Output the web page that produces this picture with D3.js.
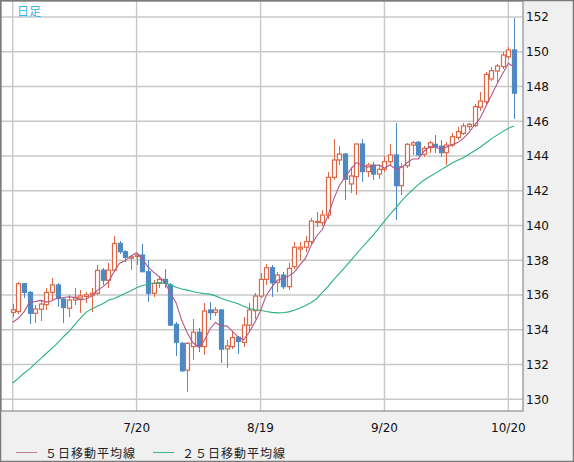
<!DOCTYPE html>
<html><head><meta charset="utf-8">
<script src="https://cdn.jsdelivr.net/npm/d3@7"></script>
<style>
html,body{margin:0;padding:0;background:#f0f0f0;}
svg{display:block;}
</style></head>
<body><svg id="c" width="574" height="462"></svg>
<script>
const dates = ["6/20","6/21","6/22","6/23","6/24","6/27","6/28","6/29","6/30","7/1",
"7/4","7/5","7/6","7/7","7/8","7/11","7/12","7/13","7/14","7/15",
"7/18","7/19","7/20","7/21","7/22","7/25","7/26","7/27","7/28","7/29",
"8/1","8/2","8/3","8/4","8/5","8/8","8/9","8/10","8/11","8/12",
"8/15","8/16","8/17","8/18","8/19","8/22","8/23","8/24","8/25","8/26",
"8/29","8/30","8/31","9/1","9/2","9/5","9/6","9/7","9/8","9/9",
"9/12","9/13","9/14","9/15","9/16","9/19","9/20","9/21","9/22","9/23",
"9/26","9/27","9/28","9/29","9/30","10/3","10/4","10/5","10/6","10/7",
"10/10","10/11","10/12","10/13","10/14","10/17","10/18","10/19","10/20","10/21"];

const open = [135.0,135.05,136.65,136.15,134.95,135.18,135.45,136.15,136.58,135.77,
135.24,135.71,135.82,135.92,136.0,136.1,137.43,136.85,137.43,138.97,
138.49,138.12,138.22,138.3,137.34,136.1,136.67,136.9,136.58,134.31,
133.22,131.68,133.03,133.86,133.03,135.14,135.0,135.14,132.9,133.03,
133.57,133.28,134.27,135.1,135.94,136.9,137.57,136.73,137.15,136.48,
137.63,138.65,138.75,139.07,140.2,140.16,140.6,142.77,143.77,144.11,
142.39,142.81,144.69,143.1,143.48,142.96,143.23,143.67,144.06,142.29,
143.44,144.63,144.79,144.1,144.48,144.67,144.57,144.19,144.63,145.07,
145.3,145.69,145.75,146.8,147.12,148.43,148.89,149.14,149.71,150.1];

const high = [135.5,136.75,136.72,136.25,135.42,135.65,136.39,137.0,136.7,135.85,
136.0,136.39,136.3,136.15,136.39,137.75,137.55,137.85,139.41,139.1,
138.6,138.3,138.4,138.93,138.0,136.86,137.1,137.48,136.7,134.45,
133.3,133.3,134.6,134.12,135.55,135.6,135.3,135.2,133.4,133.93,
133.64,134.72,135.56,136.1,137.25,137.8,137.73,137.34,137.34,137.82,
139.07,139.07,139.4,140.41,140.79,140.89,143.1,145.0,144.6,144.15,
143.38,144.69,144.96,143.6,143.65,143.48,144.0,144.69,145.88,143.58,
144.76,144.86,144.86,144.6,144.86,145.2,144.92,144.8,145.3,145.69,
145.88,145.91,146.99,147.7,148.85,149.1,149.29,150.0,150.25,151.92];

const low = [134.75,134.9,135.8,134.35,134.4,134.5,135.14,135.7,135.33,134.4,
134.72,135.4,134.95,135.55,135.0,135.98,136.55,136.39,137.3,138.35,
137.9,137.43,137.75,137.3,135.62,135.9,136.4,136.4,134.2,132.5,
131.59,130.44,132.26,132.74,132.55,134.56,134.8,132.07,131.78,132.9,
132.59,133.0,133.9,134.6,135.8,136.6,135.9,136.19,136.33,136.29,
137.5,138.01,138.5,138.9,139.93,140.0,140.4,142.6,143.5,141.47,
141.85,141.75,142.52,142.8,142.6,142.66,143.1,143.5,140.32,141.75,
143.3,144.06,144.0,143.95,144.2,144.19,143.92,143.48,144.53,144.9,
145.21,145.5,145.69,146.6,147.0,148.3,148.18,149.0,149.58,146.15];

const close = [135.15,136.65,136.15,134.95,135.2,135.48,136.15,136.58,135.8,135.28,
135.71,135.87,135.95,136.02,136.1,137.42,136.85,137.43,138.97,138.49,
138.17,138.2,138.3,137.34,136.1,136.67,136.9,136.67,134.27,133.28,
131.64,133.22,133.86,133.03,135.08,134.98,135.14,132.88,133.07,133.55,
133.32,134.27,135.14,135.94,136.9,137.57,136.7,137.15,136.48,137.53,
138.75,138.75,139.07,140.26,140.23,140.6,142.77,143.77,144.11,142.66,
142.85,144.69,143.1,143.48,142.96,143.23,143.67,144.06,142.29,143.38,
144.67,144.76,144.06,144.44,144.76,144.53,144.19,144.63,145.11,145.4,
145.73,145.82,146.84,147.16,148.7,148.91,149.18,149.81,150.1,147.61];

const ma5 = [134.43,134.66,135.03,135.58,135.62,135.69,135.59,135.67,135.84,135.86,
135.90,135.85,135.72,135.77,135.93,136.27,136.47,136.76,137.35,137.83,
137.98,138.25,138.43,138.10,137.62,137.32,137.06,136.74,136.12,135.56,
134.55,133.82,133.25,133.01,133.37,134.03,134.42,134.22,134.23,133.92,
133.59,133.42,133.87,134.44,135.11,135.96,136.45,136.85,136.96,137.09,
137.32,137.73,138.12,138.87,139.41,139.78,140.59,141.53,142.30,142.78,
143.23,143.62,143.48,143.36,143.42,143.49,143.29,143.48,143.24,143.33,
143.61,143.83,143.83,144.26,144.54,144.51,144.40,144.51,144.64,144.77,
145.01,145.34,145.78,146.19,146.85,147.49,148.16,148.75,149.34,149.12];

const ma25 = [130.94,131.2,131.5,131.75,132.05,132.35,132.65,132.95,133.25,133.6,
133.9,134.3,134.65,135.0,135.2,135.35,135.5,135.7,135.8,135.95,
136.1,136.25,136.42,136.55,136.62,136.68,136.72,136.68,136.6,136.45,
136.35,136.28,136.2,136.13,136.08,136.05,135.95,135.82,135.7,135.6,
135.5,135.35,135.22,135.15,135.12,135.05,135.0,134.97,134.98,135.03,
135.12,135.25,135.4,135.57,135.8,136.15,136.5,136.88,137.25,137.6,
137.98,138.35,138.72,139.08,139.45,139.85,140.25,140.65,141.0,141.4,
141.75,142.05,142.35,142.6,142.8,143.0,143.2,143.4,143.6,143.75,
143.9,144.1,144.3,144.5,144.75,145.0,145.2,145.4,145.6,145.72];

const yTicks = [130,132,134,136,138,140,142,144,146,148,150,152];
const xGridDates = ["6/20","7/20","8/19","9/20","10/20"];
const xTickLabels = ["","7/20","8/19","9/20","10/20"];
const titleText = "日足";
const legendLabels = ["５日移動平均線","２５日移動平均線"];

const W = 574, H = 462;
const plot = {x0: 1, y0: 1, x1: 523, y1: 411};
const colUp = "#dd6644", colDown = "#4d8ac4", colMa5 = "#b3578a", colMa25 = "#27b47a";

const svg = d3.select("#c");
svg.append("rect").attr("x",0).attr("y",0).attr("width",W).attr("height",H).attr("fill","#f0f0f0");
svg.append("rect").attr("x",plot.x0).attr("y",plot.y0).attr("width",plot.x1-plot.x0).attr("height",plot.y1-plot.y0).attr("fill","#fff");

const x = d3.scalePoint().domain(dates).range([12.7, 514]);
const y = d3.scaleLinear().domain([130,152]).range([399.3, 16.94]);

// grid
const g = svg.append("g");
g.selectAll("line.h").data(yTicks).join("line")
  .attr("x1",plot.x0).attr("x2",plot.x1)
  .attr("y1",d=>y(d)).attr("y2",d=>y(d))
  .attr("stroke","#c8c8c8").attr("stroke-width",1.4);
g.selectAll("line.v").data(xGridDates).join("line")
  .attr("x1",d=>x(d)).attr("x2",d=>x(d))
  .attr("y1",plot.y0).attr("y2",plot.y1)
  .attr("stroke","#c8c8c8").attr("stroke-width",1.4);

// candles
const data = dates.map((d,i)=>({d,o:open[i],h:high[i],l:low[i],c:close[i]}));
const cg = svg.append("g");
const bw = 4;
data.forEach(p=>{
  const up = p.c >= p.o;
  const col = up ? colUp : colDown;
  const cx = Math.round(x(p.d)) + 0.5;
  const top = y(Math.max(p.o,p.c)), bot = y(Math.min(p.o,p.c));
  cg.append("line").attr("x1",cx).attr("x2",cx).attr("y1",y(p.h)).attr("y2",y(p.l))
    .attr("stroke",col).attr("stroke-width",1).attr("shape-rendering","crispEdges");
  cg.append("rect").attr("x",cx-bw/2).attr("y",top).attr("width",bw).attr("height",Math.max(1,bot-top))
    .attr("fill", up ? "#fff" : colDown).attr("stroke",col).attr("stroke-width",1.2);
});

// moving averages
const line = d3.line().x((v,i)=>x(dates[i])).y(v=>y(v));
svg.append("path").attr("d",line(ma25)).attr("fill","none").attr("stroke",colMa25).attr("stroke-width",1.1);
svg.append("path").attr("d",line(ma5)).attr("fill","none").attr("stroke",colMa5).attr("stroke-width",1.1);

// frame
svg.append("rect").attr("x",plot.x0).attr("y",plot.y0).attr("width",plot.x1-plot.x0).attr("height",plot.y1-plot.y0)
  .attr("fill","none").attr("stroke","#8c8c8c").attr("stroke-width",1.2);
svg.append("rect").attr("x",0.5).attr("y",0.5).attr("width",W-1).attr("height",H-1)
  .attr("fill","none").attr("stroke","#7a7a7a").attr("stroke-width",1.5);

// y labels
svg.append("g").selectAll("text").data(yTicks).join("text")
  .attr("x",526).attr("y",d=>y(d)).attr("dy","0.36em")
  .attr("font-family","DejaVu Sans, sans-serif").attr("font-size",12).attr("fill","#111")
  .text(d=>d);

// x labels
svg.append("g").selectAll("text").data(xGridDates).join("text")
  .attr("x",d=>x(d)).attr("y",432).attr("text-anchor","middle")
  .attr("font-family","DejaVu Sans, sans-serif").attr("font-size",12).attr("fill","#111")
  .text((d,i)=>xTickLabels[i]);

// title
svg.append("text").attr("x",17).attr("y",15.5)
  .attr("font-family","Noto Sans CJK JP, sans-serif").attr("font-size",12).attr("fill","#36b4ee")
  .text(titleText);

// legend
const lg = svg.append("g");
const legendCols = ["#c07a9c","#3cb886"];
const legendX = [16, 153];
legendLabels.forEach((t,i)=>{
  lg.append("line").attr("x1",legendX[i]).attr("x2",legendX[i]+21).attr("y1",452.5).attr("y2",452.5)
    .attr("stroke",legendCols[i]).attr("stroke-width",1);
  lg.append("text").attr("x",legendX[i]+29).attr("y",457.5)
    .attr("font-family","Noto Sans CJK JP, sans-serif").attr("font-size",12).attr("letter-spacing",1)
    .attr("fill","#222").text(t);
});
</script>
</body></html>
